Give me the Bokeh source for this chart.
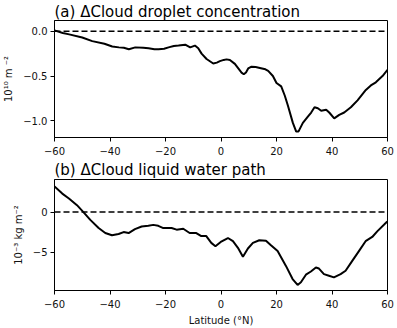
import numpy as np
from bokeh.plotting import figure
from bokeh.layouts import column
from bokeh.models import Span, FixedTicker, Range1d
from bokeh.embed import file_html
from bokeh.resources import INLINE

# Panel (a): change in cloud droplet concentration (10^10 m^-2)
lat_a = [-60, -57, -54.7, -50, -46.4, -42, -39.2, -36.8, -35, -33.2, -30.9, -28, -26.1, -24, -22.5,
         -20.5, -18.9, -17, -15.3, -12.9, -11.1, -9.4, -8.2, -7, -5.2, -2.8, -1.5, -0.4, 1, 2.0, 3.2,
         5.0, 7.4, 8.2, 9.0, 9.8, 11.0, 12.5, 14.0, 16, 17.0, 18.7, 20.0, 21.7, 23, 24.1, 25.9, 27.1,
         27.9, 29.5, 31.3, 32.5, 33.7, 34.9, 36.1, 37.9, 39.0, 40.8, 42.6, 44.4, 46.8, 49.2, 52.2,
         54.0, 55.8, 58.2, 60]
cdnc = [0.01, -0.02, -0.035, -0.07, -0.11, -0.14, -0.17, -0.18, -0.185, -0.20, -0.18, -0.185, -0.19,
        -0.20, -0.20, -0.195, -0.18, -0.165, -0.16, -0.15, -0.18, -0.16, -0.19, -0.25, -0.31, -0.36,
        -0.35, -0.334, -0.32, -0.314, -0.32, -0.364, -0.462, -0.48, -0.46, -0.415, -0.395, -0.40,
        -0.41, -0.425, -0.442, -0.5, -0.578, -0.616, -0.72, -0.829, -1.023, -1.12, -1.12, -1.023,
        -0.953, -0.907, -0.849, -0.86, -0.887, -0.876, -0.907, -0.973, -0.934, -0.907, -0.849,
        -0.771, -0.655, -0.605, -0.57, -0.50, -0.43]

# Panel (b): change in cloud liquid water path (10^-3 kg m^-2)
lat_b = [-60, -57.2, -54.8, -51.9, -49.5, -47.1, -44.1, -41.7, -39.3, -36.9, -35.1, -33.3, -31.0,
         -28.6, -26.2, -24.4, -22.6, -20.8, -17.8, -16.0, -13.6, -11.3, -8.9, -7.1, -5.3, -3.5, -2.0,
         -0.1, 2.5, 4.3, 6.1, 7.9, 9.7, 11.5, 13.8, 16.2, 18.0, 20.4, 23.4, 25.8, 27.6, 28.8, 30.6,
         32.4, 34.2, 35.3, 37.1, 38.9, 40.7, 43.1, 44.9, 47.3, 49.7, 52.1, 54.5, 56.3, 59.9]
lwp = [3.2, 2.3, 1.69, 0.86, -0.04, -0.98, -2.0, -2.62, -2.9, -2.74, -2.5, -2.62, -2.13, -1.8, -1.72,
       -1.6, -1.72, -2.0, -2.0, -2.2, -2.09, -2.62, -2.62, -3.0, -3.0, -3.85, -4.26, -3.73, -3.24,
       -3.64, -4.47, -5.57, -4.55, -3.85, -3.52, -3.57, -4.13, -4.87, -6.72, -8.36, -9.1, -8.77,
       -7.82, -7.42, -6.92, -7.05, -7.75, -7.95, -8.15, -7.75, -7.33, -6.1, -4.87, -3.64, -3.11,
       -2.41, -1.18]

x_ticks = [-60, -40, -20, 0, 20, 40, 60]
x_labels = ["\u221260", "\u221240", "\u221220", "0", "20", "40", "60"]
ya_ticks = [0.0, -0.5, -1.0]
ya_labels = ["0.0", "\u22120.5", "\u22121.0"]
yb_ticks = [0, -5]
yb_labels = ["0", "\u22125"]

FONT = "DejaVu Sans"
TXT = "#111111"


def make_panel(title, x, y, yrange, yticks, ylabels, ylabel, height, title_standoff, xlabel=None):
    p = figure(width=394, height=height, output_backend="svg", toolbar_location=None,
               x_range=Range1d(-60, 60), y_range=Range1d(*yrange),
               min_border_left=52, min_border_right=7, min_border_top=0, min_border_bottom=0)
    p.title.text = title
    p.title.text_font = FONT
    p.title.text_font_size = "15px"
    p.title.text_font_style = "normal"
    p.title.text_color = "black"
    p.title.offset = 0
    p.title.standoff = title_standoff
    p.xgrid.visible = False
    p.ygrid.visible = False
    p.outline_line_color = "black"
    p.outline_line_alpha = 1
    p.outline_line_width = 1
    p.background_fill_color = "white"
    p.border_fill_color = "white"

    p.add_layout(Span(location=0, dimension="width", line_color="black",
                      line_width=1.5, line_dash="6 3"))
    p.line(x, y, line_color="black", line_width=2)

    for ax in (p.xaxis[0], p.yaxis[0]):
        ax.axis_line_color = "black"
        ax.major_tick_line_color = "black"
        ax.major_tick_out = 4
        ax.major_tick_in = 0
        ax.minor_tick_line_color = None
        ax.major_label_text_font = FONT
        ax.major_label_text_font_size = "10px"
        ax.major_label_text_color = TXT
        ax.major_label_standoff = 3
        ax.axis_label_text_font = FONT
        ax.axis_label_text_font_style = "normal"
        ax.axis_label_text_color = TXT

    p.xaxis.major_label_standoff = 5
    p.xaxis.ticker = FixedTicker(ticks=x_ticks)
    p.xaxis.major_label_overrides = dict(zip(x_ticks, x_labels))
    p.yaxis.ticker = FixedTicker(ticks=yticks)
    p.yaxis.major_label_overrides = dict(zip(yticks, ylabels))
    p.yaxis.axis_label = ylabel
    p.yaxis.axis_label_text_font_size = "10px"
    p.yaxis.axis_label_standoff = 6
    if xlabel:
        p.xaxis.axis_label = xlabel
        p.xaxis.axis_label_text_font_size = "10px"
        p.xaxis.axis_label_standoff = 4
    return p


p1 = make_panel("(a) \u0394Cloud droplet concentration", lat_a, cdnc, (-1.186, 0.12),
                ya_ticks, ya_labels, "10\u00b9\u2070 m \u207b\u00b2", 157, 0)
p2 = make_panel("(b) \u0394Cloud liquid water path", lat_b, lwp, (-9.79, 4.06),
                yb_ticks, yb_labels, "10\u207b\u00b3 kg m\u207b\u00b2", 171, 2,
                xlabel="Latitude (\u00b0N)")

layout = column(p1, p2, spacing=0)
open("out.html", "w").write(file_html(layout, INLINE))
